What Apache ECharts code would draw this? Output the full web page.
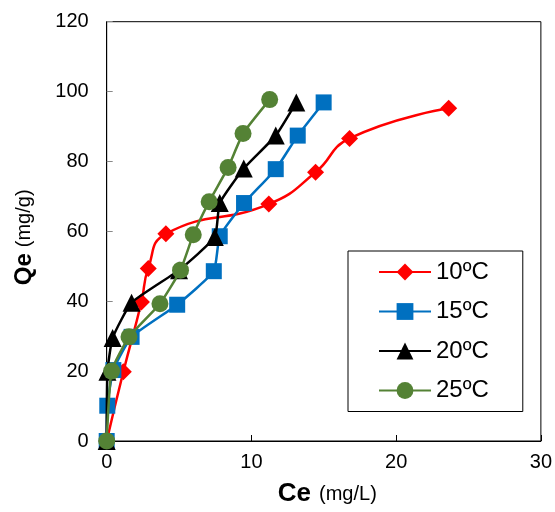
<!DOCTYPE html>
<html>
<head>
<meta charset="utf-8">
<script src="https://cdn.jsdelivr.net/npm/echarts@6/dist/echarts.min.js"></script>
<style>
    html, body { margin: 0; padding: 0; background: #fff; }
    #chart { width: 555px; height: 512px; }
</style>
</head>
<body>
<div id="chart"></div>
<script>
    // 各温度下的吸附等温线数据 (Ce, Qe)
    var names = ['10ºC', '15ºC', '20ºC', '25ºC'];
    var colors = ['#ff0000', '#0070c0', '#000000', '#548235'];
    var symbols = ['diamond', 'rect', 'triangle', 'circle'];

    var ce10 = [0, 1.15, 2.4, 2.87, 4.09, 11.2, 14.43, 16.78, 23.63];
    var qe10 = [0, 19.8, 39.8, 49.4, 59.3, 67.8, 76.9, 86.6, 95.2];

    var ce15 = [0, 0.04, 0.46, 1.72, 4.87, 7.4, 7.81, 9.49, 11.68, 13.2, 14.99];
    var qe15 = [0, 10.1, 20.3, 29.8, 39.0, 48.6, 58.6, 68.1, 77.8, 87.4, 96.9];

    var ce20 = [0, 0.05, 0.41, 1.72, 5.0, 7.47, 7.81, 9.47, 11.68, 13.1];
    var qe20 = [0, 19.8, 29.5, 39.6, 48.9, 58.4, 68.1, 78.0, 87.4, 96.9];

    var ce25 = [0, 0.34, 1.54, 3.68, 5.1, 5.98, 7.08, 8.39, 9.42, 11.26];
    var qe25 = [0, 20.0, 29.8, 39.3, 48.9, 59.0, 68.5, 78.3, 88.0, 97.7];

    var xTicks = [0, 10, 20, 30];
    var yTicks = [0, 20, 40, 60, 80, 100, 120];

    function pairs(xs, ys) {
        var out = [];
        for (var i = 0; i < xs.length; i++) {
            out.push([xs[i], ys[i]]);
        }
        return out;
    }

    var seriesData = [pairs(ce10, qe10), pairs(ce15, qe15), pairs(ce20, qe20), pairs(ce25, qe25)];
    var symbolSizes = [17, 16, 18, 17];
    var smoothVals = [0.5, 0.15, 0.15, 0.15];

    var chart = echarts.init(document.getElementById('chart'), null, { renderer: 'canvas' });

    var series = [];
    for (var i = 0; i < names.length; i++) {
        series.push({
            name: names[i],
            type: 'line',
            data: seriesData[i],
            smooth: smoothVals[i],
            symbol: symbols[i],
            symbolSize: symbolSizes[i],
            showAllSymbol: true,
            lineStyle: { color: colors[i], width: 2.5 },
            itemStyle: { color: colors[i] },
            z: 2 + i
        });
    }

    var font = '"Liberation Sans", Arial, sans-serif';

    var option = {
        animation: false,
        textStyle: { fontFamily: font },
        grid: {
            left: 106.7,
            right: 13.3,
            top: 21.7,
            bottom: 68,
            show: true,
            borderColor: '#000',
            borderWidth: 1
        },
        legend: {
            orient: 'vertical',
            left: 348,
            top: 251,
            data: names,
            itemWidth: 52,
            itemHeight: 21,
            itemGap: 15.5,
            padding: [9, 34, 9, 30],
            borderColor: '#000',
            borderWidth: 1,
            backgroundColor: '#fff',
            textStyle: { fontSize: 24, lineHeight: 24, color: '#000', fontFamily: font }
        },
        xAxis: {
            type: 'value',
            min: xTicks[0],
            max: xTicks[xTicks.length - 1],
            interval: 10,
            name: '{b|Ce}{n|(mg/L)}',
            nameLocation: 'middle',
            nameGap: 40,
            nameTextStyle: {
                padding: [0, 0, 0, 7],
                rich: {
                    b: { fontSize: 26, fontWeight: 'bold', color: '#000', fontFamily: font },
                    n: { fontSize: 20, color: '#000', fontFamily: font, padding: [0, 0, 0, 8] }
                }
            },
            axisLine: { lineStyle: { color: '#000', width: 1 } },
            axisTick: { inside: true, length: 6, lineStyle: { color: '#000' } },
            axisLabel: { fontSize: 20, color: '#000', margin: 11 },
            splitLine: { show: false }
        },
        yAxis: {
            type: 'value',
            min: yTicks[0],
            max: yTicks[yTicks.length - 1],
            interval: 20,
            name: '{b|Qe}{n|(mg/g)}',
            nameLocation: 'middle',
            nameGap: 70,
            nameTextStyle: {
                padding: [0, 12, 0, 0],
                rich: {
                    b: { fontSize: 24, fontWeight: 'bold', color: '#000', fontFamily: font },
                    n: { fontSize: 20, color: '#000', fontFamily: font, padding: [0, 0, 0, 6] }
                }
            },
            axisLine: { lineStyle: { color: '#000', width: 1 } },
            axisTick: { inside: true, length: 6, lineStyle: { color: '#888' } },
            axisLabel: { fontSize: 20, color: '#000', margin: 18 },
            splitLine: { show: false }
        },
        series: series
    };

    chart.setOption(option);
</script>
</body>
</html>
